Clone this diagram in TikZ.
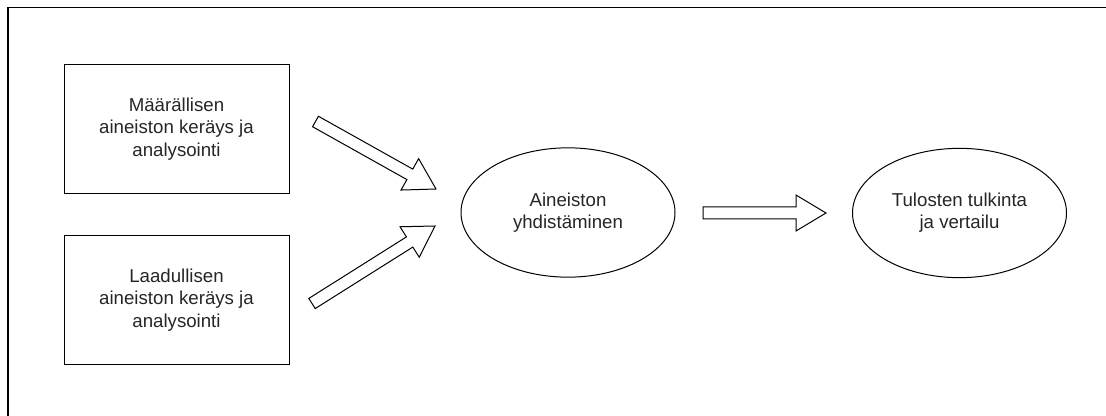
\documentclass[tikz,border=0pt]{standalone}
\usepackage{fontspec}
\setmainfont{Liberation Sans}
\usetikzlibrary{shapes.geometric,calc}

\begin{document}
\begin{tikzpicture}[x=0.75pt,y=-0.75pt,
  box/.style={draw,line width=0.75pt,minimum width=168.75pt,minimum height=96.5pt,align=center,
    font=\fontsize{14}{16.7}\selectfont,text=black!85},
  oval/.style={ellipse,draw,line width=0.75pt,minimum width=160.5pt,minimum height=97pt,align=center,
    font=\fontsize{14}{16.7}\selectfont,text=black!85},
  flow/.style={draw,line width=0.75pt,line join=miter,
    to path={let \p1=($(\tikztotarget)-(\tikztostart)$), \n1={atan2(\y1,\x1)},
      \p2=($(\tikztotarget)!22.5pt!(\tikztostart)$) in
      ($(\tikztostart)+({\n1+90}:4.5pt)$) -- ($(\p2)+({\n1+90}:4.5pt)$) -- ($(\p2)+({\n1+90}:13.5pt)$)
      -- (\tikztotarget) -- ($(\p2)+({\n1-90}:13.5pt)$) -- ($(\p2)+({\n1-90}:4.5pt)$)
      -- ($(\tikztostart)+({\n1-90}:4.5pt)$) -- cycle}}]
\useasboundingbox (0,0) rectangle (1106,416);
\draw[line width=0.9pt] (8,416) -- (8,7.5) -- (1106,7.5);

\node[box] (quant) at (176.5,129) {Määrällisen\\aineiston keräys ja\\analysointi};
\node[box] (qual) at (176.5,300) {Laadullisen\\aineiston keräys ja\\analysointi};
\node[oval] (merge) at (568,212.5) {Aineiston\\yhdistäminen};
\node[oval] (interp) at (959.5,213) {Tulosten tulkinta\\ja vertailu};

% hollow arrows
\coordinate (t1) at (315.5,121.5); \coordinate (h1) at (436,189);
\coordinate (t2) at (312,303.5); \coordinate (h2) at (435,226);
\coordinate (t3) at (703,213); \coordinate (h3) at (826,213);
\foreach \i in {1,2,3}
  \draw[flow] (t\i) to (h\i);
\end{tikzpicture}
\end{document}
